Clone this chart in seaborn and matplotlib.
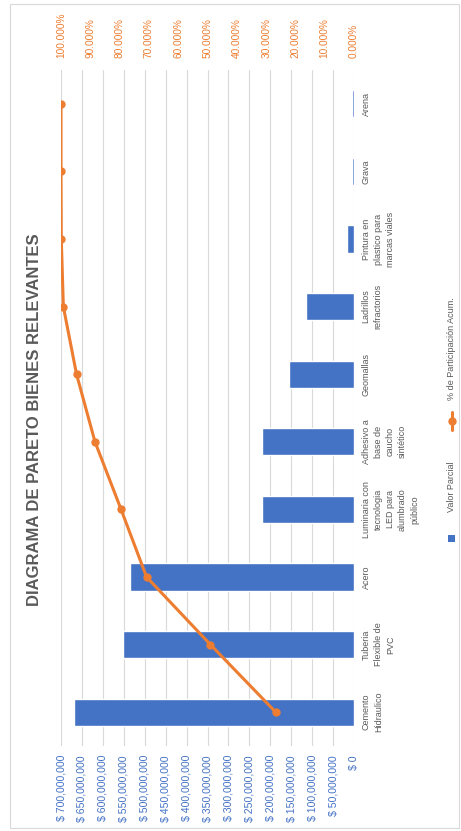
import numpy as np
import seaborn as sns
import matplotlib.pyplot as plt
from matplotlib.patches import Rectangle
from matplotlib.lines import Line2D


# datos
categorias = [
    "Cemento\nHidraulico",
    "Tuberia\nFlexible de\nPVC",
    "Acero",
    "Luminaria con\ntecnologia\nLED para\nalumbrado\npúblico",
    "Adhesivo a\nbase de\ncaucho\nsintético",
    "Geomallas",
    "Ladrillos\nrefractorios",
    "Pintura en\nplastico para\nmarcas viales",
    "Grava",
    "Arena",
]
valor_parcial = [669e6, 552e6, 536e6, 219e6, 219e6, 154.5e6, 114e6, 16.7e6, 4.5e6, 4.0e6]
pct_acum = [0.267, 0.490, 0.708, 0.795, 0.884, 0.947, 0.992, 0.999, 1.000, 1.000]
ticks_valor = list(range(0, 700_000_001, 50_000_000))
ticks_pct = [i / 10 for i in range(11)]

titulo = "DIAGRAMA DE PARETO BIENES RELEVANTES"
leyenda_barras = "Valor Parcial"
leyenda_linea = "% de Participación Acum."

AZUL = "#4472C4"
NARANJA = "#ED7D31"
GRIS = "#595959"

sns.set_theme(style="white")
plt.rcParams["font.family"] = ["Liberation Sans", "DejaVu Sans"]

W, H = 461, 831
fig = plt.figure(figsize=(W / 100, H / 100), dpi=100)


def fx(px):
    return px / W


def fy(py):
    # pixel desde arriba -> fraccion desde abajo
    return 1 - py / H


# marco del grafico
fig.patches.append(Rectangle((fx(10), fy(828)), fx(449), 824 / H, transform=fig.transFigure,
                             fill=False, edgecolor="#D9D9D9", lw=0.8))

ax = fig.add_axes([fx(61), fy(746), fx(354 - 61), (746 - 70) / H])
pos = np.arange(len(categorias))
sns.barplot(x=valor_parcial, y=pos, orient="h", native_scale=True, color=AZUL,
            saturation=1, width=0.4, ax=ax)

ax.set_xlim(700e6, 0)
ax.set_ylim(-0.5, len(categorias) - 0.5)
ax.set_xticks(ticks_valor, labels=[f"$ {v:,.0f}" for v in ticks_valor])
ax.tick_params(axis="x", length=0, pad=6.5, labelsize=7.6, labelcolor=AZUL, labelrotation=90)
ax.yaxis.tick_right()
ax.set_yticks(pos, labels=categorias)
ax.tick_params(axis="y", length=0, pad=5.5, labelsize=6.5, labelcolor=GRIS)
for t in ax.get_yticklabels():
    t.set_rotation(90)
    t.set_ha("left")
    t.set_va("center")
    t.set_multialignment("center")
    t.set_linespacing(1.45)
ax.grid(axis="x", color="#D9D9D9", lw=0.8)
ax.grid(axis="y", visible=False)
ax.set_axisbelow(True)
ax.set_xlabel("")
ax.set_ylabel("")
for s in ax.spines.values():
    s.set_visible(False)

# eje secundario (% acumulado)
ax2 = ax.twiny()
ax2.plot(pct_acum, pos, color=NARANJA, lw=2.2, marker="o", markersize=5)
ax2.set_xlim(1.0, 0)
ax2.set_xticks(ticks_pct, labels=[f"{p * 100:.3f}%" for p in ticks_pct])
ax2.tick_params(axis="x", length=0, pad=9, labelsize=7.3, labelcolor=NARANJA, labelrotation=90)
for s in ax2.spines.values():
    s.set_visible(False)
ax2.grid(False)

# titulo
fig.text(fx(34.5), fy(420), titulo, rotation=90, ha="center", va="center",
         fontsize=12, fontweight="bold", color=GRIS)

# leyenda (girada a mano)
fig.patches.append(Rectangle((fx(448), fy(542)), fx(7), 7 / H, transform=fig.transFigure,
                             facecolor=AZUL, edgecolor="none"))
fig.text(fx(451.5), fy(486.5), leyenda_barras, rotation=90, ha="center", va="center",
         fontsize=6.5, color=GRIS)
fig.lines.append(Line2D([fx(451.5)] * 2, [fy(412), fy(430)], transform=fig.transFigure,
                        color=NARANJA, lw=2.2))
fig.lines.append(Line2D([fx(451.5)], [fy(421)], transform=fig.transFigure,
                        color=NARANJA, marker="o", markersize=5))
fig.text(fx(451.5), fy(348.5), leyenda_linea, rotation=90, ha="center", va="center",
         fontsize=6.5, color=GRIS)

fig.savefig("out.png", dpi=100)
